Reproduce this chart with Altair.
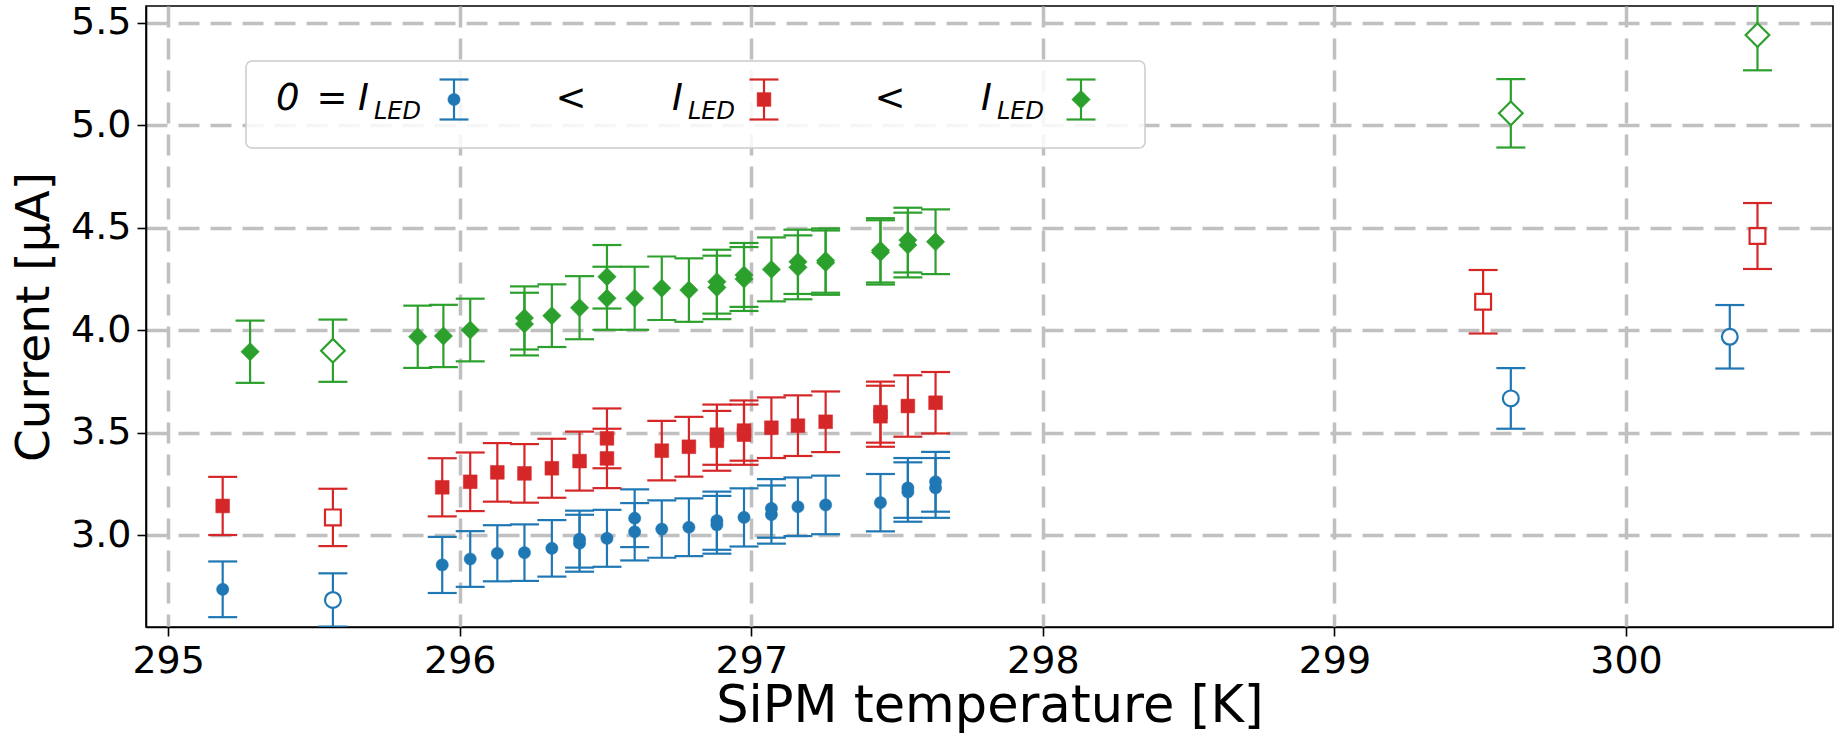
import altair as alt
import pandas as pd

# ---------------- data ----------------
# I_LED = 0  (blue, circles)
blue_T = [295.187, 295.94, 296.036, 296.129, 296.222, 296.316, 296.411, 296.411, 296.505,
          296.60, 296.60, 296.693, 296.786, 296.882, 296.882, 296.975, 297.069, 297.069,
          297.16, 297.255, 297.443, 297.537, 297.537, 297.632, 297.632]
blue_I = [2.735, 2.854, 2.883, 2.911, 2.914, 2.935, 2.96, 2.98, 2.984,
          3.016, 3.082, 3.029, 3.038, 3.05, 3.07, 3.086, 3.10, 3.13,
          3.138, 3.147, 3.158, 3.21, 3.23, 3.23, 3.26]
blue_err = [0.136, 0.137, 0.136, 0.137, 0.138, 0.138, 0.139, 0.139, 0.139,
            0.140, 0.141, 0.140, 0.141, 0.141, 0.142, 0.142, 0.142, 0.143,
            0.143, 0.143, 0.140, 0.145, 0.146, 0.146, 0.146]
blue_open_T = [295.565, 299.605, 300.356]
blue_open_I = [2.683, 3.667, 3.968]
blue_open_err = [0.130, 0.148, 0.155]

# middle I_LED (red, squares)
red_T = [295.187, 295.94, 296.036, 296.129, 296.222, 296.316, 296.411, 296.505, 296.505,
         296.693, 296.786, 296.882, 296.882, 296.975, 296.975, 297.069, 297.16, 297.255,
         297.443, 297.443, 297.537, 297.632]
red_I = [3.142, 3.233, 3.260, 3.306, 3.301, 3.326, 3.361, 3.374, 3.472,
         3.412, 3.431, 3.46, 3.49, 3.49, 3.51, 3.524, 3.534, 3.553,
         3.58, 3.60, 3.630, 3.646]
red_err = [0.142, 0.142, 0.143, 0.143, 0.143, 0.144, 0.144, 0.145, 0.146,
           0.145, 0.146, 0.146, 0.147, 0.147, 0.147, 0.148, 0.148, 0.148,
           0.149, 0.149, 0.150, 0.150]
red_open_T = [295.565, 299.51, 300.451]
red_open_I = [3.086, 4.139, 4.460]
red_open_err = [0.140, 0.155, 0.161]

# highest I_LED (green, diamonds)
green_T = [295.281, 295.856, 295.944, 296.036, 296.222, 296.222, 296.316, 296.411, 296.505,
           296.505, 296.60, 296.693, 296.786, 296.882, 296.882, 296.975, 296.975, 297.069,
           297.16, 297.16, 297.255, 297.255, 297.443, 297.443, 297.537, 297.537, 297.632]
green_I = [3.895, 3.968, 3.972, 4.001, 4.03, 4.06, 4.071, 4.110, 4.156,
           4.261, 4.156, 4.205, 4.196, 4.209, 4.237, 4.25, 4.27, 4.297,
           4.307, 4.334, 4.33, 4.34, 4.38, 4.39, 4.416, 4.44, 4.432]
green_err = [0.152, 0.152, 0.152, 0.153, 0.153, 0.154, 0.153, 0.154, 0.154,
             0.155, 0.154, 0.155, 0.155, 0.155, 0.156, 0.156, 0.156, 0.156,
             0.156, 0.157, 0.157, 0.157, 0.157, 0.157, 0.158, 0.158, 0.158]
green_open_T = [295.565, 299.605, 300.451]
green_open_I = [3.900, 5.059, 5.441]
green_open_err = [0.152, 0.167, 0.172]

x_ticks = [295, 296, 297, 298, 299, 300]
y_ticks = [3.0, 3.5, 4.0, 4.5, 5.0, 5.5]
x_title = "SiPM temperature [K]"
y_title = "Current [\u03bcA]"

# ---------------- layout / style ----------------
FONT = "DejaVu Sans"
PL, PT = 146, 6            # plot origin in the page
W, H = 1687, 621
BLUE, RED, GREEN = "#1f77b4", "#d62728", "#2ca02c"
LW = 2.2
CAP = 29

xscale = alt.Scale(domain=[294.924, 300.710], nice=False, zero=False)
yscale = alt.Scale(domain=[2.551, 5.583], nice=False, zero=False)

xaxis = alt.Axis(values=x_ticks, format="d", title=x_title, titleFontSize=51,
                 titleX=W / 2, titleY=94, titleBaseline="alphabetic", titleAlign="center")
yaxis = alt.Axis(values=y_ticks, format=".1f", title=y_title, titleFontSize=47,
                 titleX=-98, titleY=H / 2, titleBaseline="alphabetic", titleAlign="center")


def make_df(T, I, E):
    return pd.DataFrame({"T": T, "I": I, "lo": [a - b for a, b in zip(I, E)],
                         "hi": [a + b for a, b in zip(I, E)]})


def series_layers(T, I, E, color, shape, size, filled):
    df = make_df(T, I, E)
    base = alt.Chart(df)
    X = alt.X("T:Q", scale=xscale, axis=xaxis)
    rule = base.mark_rule(color=color, strokeWidth=LW, clip=True).encode(
        x=X, y=alt.Y("lo:Q", scale=yscale, axis=yaxis), y2="hi:Q")
    cap_lo = base.mark_tick(orient="horizontal", size=CAP, thickness=LW, color=color,
                            opacity=1, clip=True).encode(
        x=X, y=alt.Y("lo:Q", scale=yscale, axis=yaxis))
    cap_hi = base.mark_tick(orient="horizontal", size=CAP, thickness=LW, color=color,
                            opacity=1, clip=True).encode(
        x=X, y=alt.Y("hi:Q", scale=yscale, axis=yaxis))
    if filled:
        pt = base.mark_point(shape=shape, size=size, filled=True, fill=color,
                             stroke=color, strokeWidth=0.5, opacity=1, clip=True)
    else:
        pt = base.mark_point(shape=shape, size=size, filled=True, fill="white",
                             fillOpacity=1, stroke=color, strokeWidth=2.2, opacity=1, clip=True)
    pt = pt.encode(x=X, y=alt.Y("I:Q", scale=yscale, axis=yaxis))
    return [rule, cap_lo, cap_hi, pt]


layers = []
layers += series_layers(blue_T, blue_I, blue_err, BLUE, "circle", 150, True)
layers += series_layers(blue_open_T, blue_open_I, blue_open_err, BLUE, "circle", 250, False)
layers += series_layers(red_T, red_I, red_err, RED, "square", 190, True)
layers += series_layers(red_open_T, red_open_I, red_open_err, RED, "square", 250, False)
layers += series_layers(green_T, green_I, green_err, GREEN, "diamond", 340, True)
layers += series_layers(green_open_T, green_open_I, green_open_err, GREEN, "diamond", 560, False)

# ---------------- legend (drawn in pixel space) ----------------
one = pd.DataFrame({"k": [0]})


def px(x):
    return x - PL


def py(y):
    return y - PT


legend_box = alt.Chart(one).mark_rect(fill="white", fillOpacity=0.85, stroke="#cccccc",
                                      strokeWidth=1.5, cornerRadius=6).encode(
    x=alt.value(px(246)), x2=alt.value(px(1145)), y=alt.value(py(61)), y2=alt.value(py(148)))
layers.append(legend_box)


def text(s, x, y, size, italic=True, align="left"):
    return alt.Chart(pd.DataFrame({"s": [s]})).mark_text(
        font=FONT, fontSize=size, fontStyle="italic" if italic else "normal",
        align=align, baseline="alphabetic", color="black").encode(
        x=alt.value(px(x)), y=alt.value(py(y)), text="s:N")


def handle(x, color, shape, size):
    r = alt.Chart(one).mark_rule(color=color, strokeWidth=LW).encode(
        x=alt.value(px(x)), y=alt.value(py(79.5)), y2=alt.value(py(119.5)))
    c1 = alt.Chart(one).mark_rule(color=color, strokeWidth=LW).encode(
        x=alt.value(px(x - CAP / 2)), x2=alt.value(px(x + CAP / 2)), y=alt.value(py(79.5)))
    c2 = alt.Chart(one).mark_rule(color=color, strokeWidth=LW).encode(
        x=alt.value(px(x - CAP / 2)), x2=alt.value(px(x + CAP / 2)), y=alt.value(py(119.5)))
    p = alt.Chart(one).mark_point(shape=shape, size=size, filled=True, fill=color,
                                  stroke=color, strokeWidth=0.5, opacity=1).encode(
        x=alt.value(px(x)), y=alt.value(py(99.5)))
    return [r, c1, c2, p]


LF, SF = 37, 24
layers += [text("0", 276, 110, LF), text("=", 332, 110, LF, italic=False, align="center"),
           text("I", 358, 110, LF), text("LED", 374, 119, SF)]
layers += handle(454, BLUE, "circle", 150)
layers += [text("<", 571, 110, LF, italic=False, align="center"),
           text("I", 672, 110, LF), text("LED", 688, 119, SF)]
layers += handle(764, RED, "square", 190)
layers += [text("<", 890, 110, LF, italic=False, align="center"),
           text("I", 981, 110, LF), text("LED", 997, 119, SF)]
layers += handle(1081, GREEN, "diamond", 340)

chart = alt.layer(*layers).properties(
    width=W, height=H,
    padding={"left": PL, "top": PT, "right": 1837 - PL - W, "bottom": 737 - PT - H},
    autosize="none",
).configure(
    font=FONT,
).configure_view(
    stroke="black", strokeWidth=1.6,
).configure_axis(
    labelFont=FONT, titleFont=FONT, labelFontSize=38,
    labelColor="black", titleColor="black", titleFontWeight="normal",
    domainColor="black", domainWidth=1.6, tickColor="black", tickWidth=1.6, tickSize=9,
    labelPadding=6, grid=True, gridColor="#c0c0c0", gridWidth=3.5, gridDash=[21, 11],
    gridOpacity=1, labelFlush=False, labelOverlap=False,
)

chart.save("out.html", embed_options={"renderer": "svg", "actions": False})
